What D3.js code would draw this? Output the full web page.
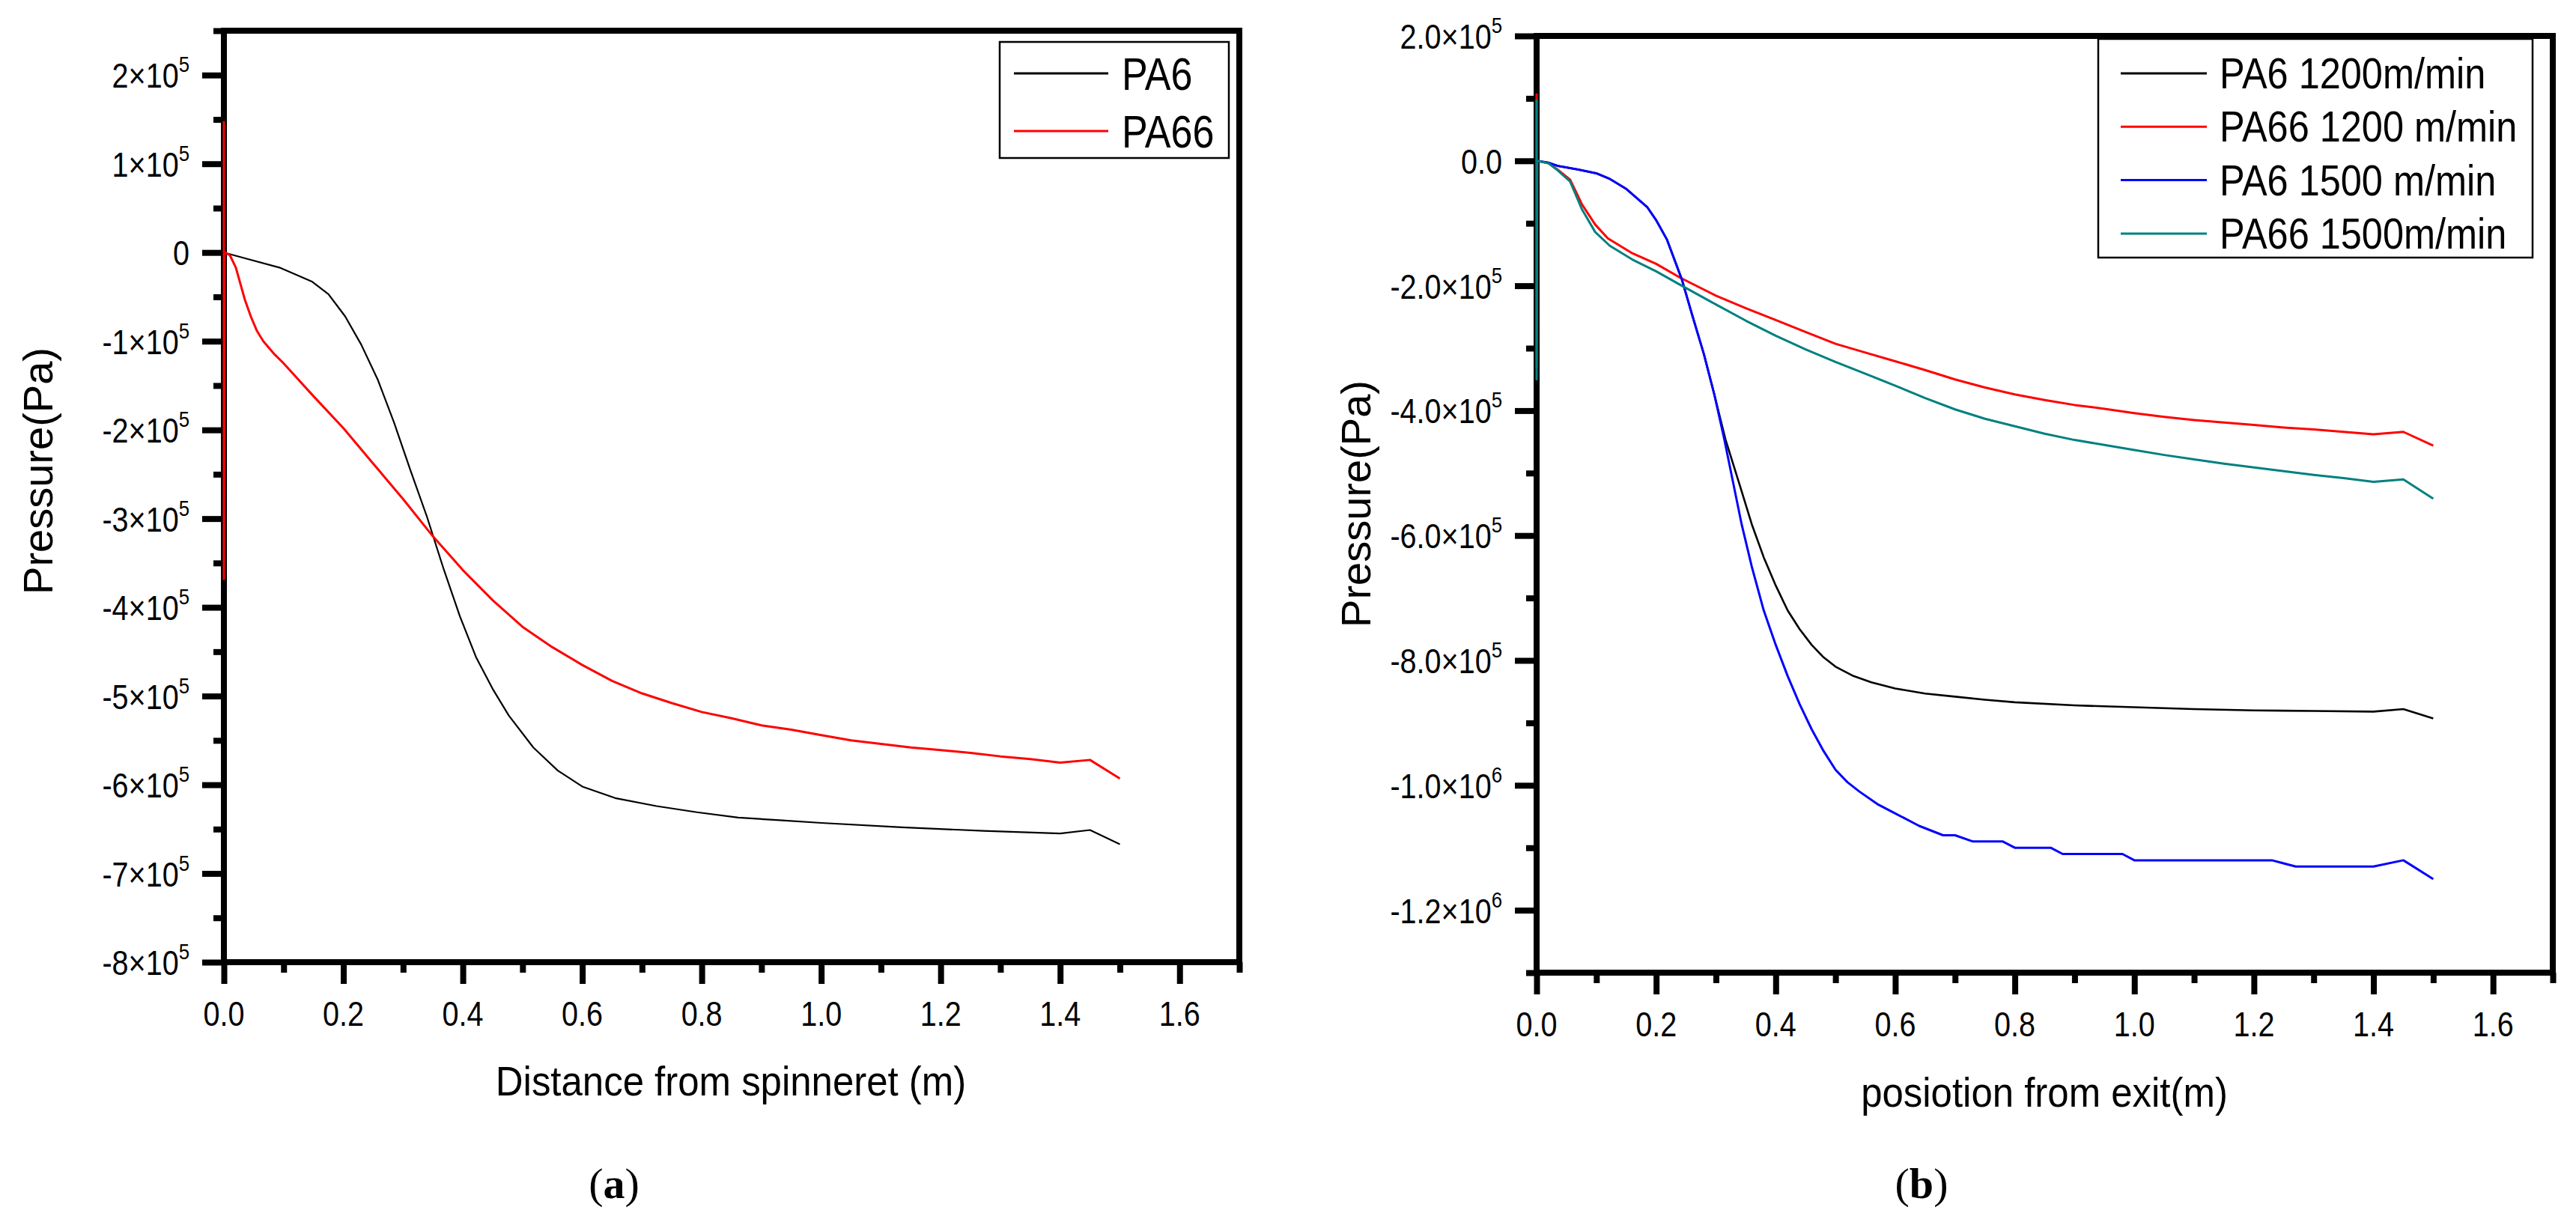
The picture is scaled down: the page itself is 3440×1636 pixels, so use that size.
<!DOCTYPE html>
<html>
<head>
<meta charset="utf-8">
<script src="https://cdn.jsdelivr.net/npm/d3@7"></script>
<style>
  body { margin: 0; background: #fff; }
  text { font-family: "Liberation Sans", Arial, sans-serif; fill: #000; }
</style>
</head>
<body>
<svg id="chart" width="3440" height="1636"></svg>
<script>
// ---------- data ----------
const xMajor = [0, 0.2, 0.4, 0.6, 0.8, 1.0, 1.2, 1.4, 1.6];
const xMinor = [0.1, 0.3, 0.5, 0.7, 0.9, 1.1, 1.3, 1.5, 1.7];
const xTickText = ["0.0", "0.2", "0.4", "0.6", "0.8", "1.0", "1.2", "1.4", "1.6"];

// panel (a)
const yMajorA = [2e5, 1e5, 0, -1e5, -2e5, -3e5, -4e5, -5e5, -6e5, -7e5, -8e5];
const yMinorA = [2.5e5, 1.5e5, 0.5e5, -0.5e5, -1.5e5, -2.5e5, -3.5e5, -4.5e5, -5.5e5, -6.5e5, -7.5e5];
const yTickTextA = ["2×10", "1×10", "0", "-1×10", "-2×10", "-3×10", "-4×10", "-5×10", "-6×10", "-7×10", "-8×10"];
const yTickSupA = ["5", "5", "", "5", "5", "5", "5", "5", "5", "5", "5"];

const namesA = ["PA6", "PA66"];
const colorsA = ["#000000", "#ff0000"];

const pa6A = [[0,0],[0.038,-0.07e5],[0.093,-0.17e5],[0.148,-0.33e5],[0.175,-0.47e5],[0.203,-0.72e5],
  [0.23,-1.04e5],[0.258,-1.44e5],[0.285,-1.92e5],[0.312,-2.45e5],[0.34,-2.98e5],[0.367,-3.55e5],
  [0.395,-4.1e5],[0.422,-4.56e5],[0.45,-4.92e5],[0.477,-5.22e5],[0.518,-5.58e5],[0.559,-5.84e5],
  [0.6,-6.02e5],[0.655,-6.15e5],[0.724,-6.24e5],[0.792,-6.31e5],[0.861,-6.37e5],[0.93,-6.4e5],
  [1.0,-6.43e5],[1.135,-6.48e5],[1.272,-6.52e5],[1.4,-6.55e5],[1.45,-6.51e5],[1.5,-6.67e5]];

const pa66A = [[0,1.48e5],[0,-3.68e5],[0.001,0],[0.01,-0.03e5],[0.02,-0.17e5],[0.035,-0.53e5],
  [0.045,-0.72e5],[0.055,-0.88e5],[0.066,-1.0e5],[0.085,-1.15e5],[0.1,-1.25e5],[0.15,-1.62e5],
  [0.2,-1.98e5],[0.25,-2.38e5],[0.3,-2.78e5],[0.35,-3.2e5],[0.4,-3.58e5],[0.45,-3.92e5],
  [0.5,-4.22e5],[0.55,-4.45e5],[0.6,-4.65e5],[0.65,-4.83e5],[0.7,-4.97e5],[0.75,-5.08e5],
  [0.8,-5.18e5],[0.85,-5.25e5],[0.9,-5.33e5],[0.95,-5.38e5],[1.0,-5.44e5],[1.05,-5.5e5],
  [1.1,-5.54e5],[1.15,-5.58e5],[1.2,-5.61e5],[1.25,-5.64e5],[1.3,-5.68e5],[1.35,-5.71e5],
  [1.4,-5.75e5],[1.45,-5.72e5],[1.5,-5.93e5]];

// panel (b)
const yMajorB = [2e5, 0, -2e5, -4e5, -6e5, -8e5, -1e6, -1.2e6];
const yMinorB = [1e5, -1e5, -3e5, -5e5, -7e5, -9e5, -1.1e6, -1.3e6];
const yTickTextB = ["2.0×10", "0.0", "-2.0×10", "-4.0×10", "-6.0×10", "-8.0×10", "-1.0×10", "-1.2×10"];
const yTickSupB = ["5", "", "5", "5", "5", "5", "6", "6"];

const namesB = ["PA6 1200m/min", "PA66 1200 m/min", "PA6 1500 m/min", "PA66 1500m/min"];
const colorsB = ["#000000", "#ff0000", "#0000ff", "#008080"];

const pa6_1200 = [[0,0],[0.02,-0.03e5],[0.035,-0.08e5],[0.07,-0.14e5],[0.1,-0.2e5],[0.1225,-0.29e5],
  [0.15,-0.45e5],[0.185,-0.74e5],[0.2,-0.95e5],[0.218,-1.26e5],[0.243,-1.9e5],[0.26,-2.46e5],
  [0.28,-3.1e5],[0.2975,-3.75e5],[0.316,-4.46e5],[0.34,-5.2e5],[0.36,-5.82e5],[0.38,-6.35e5],
  [0.4,-6.8e5],[0.42,-7.2e5],[0.44,-7.5e5],[0.46,-7.75e5],[0.48,-7.95e5],[0.5,-8.1e5],
  [0.53,-8.25e5],[0.56,-8.35e5],[0.6,-8.45e5],[0.65,-8.53e5],[0.7,-8.58e5],[0.75,-8.63e5],
  [0.8,-8.67e5],[0.9,-8.72e5],[1.0,-8.75e5],[1.1,-8.78e5],[1.2,-8.8e5],[1.3,-8.81e5],
  [1.4,-8.82e5],[1.45,-8.78e5],[1.5,-8.93e5]];

const pa66_1200 = [[0,1.08e5],[0,-3.3e5],[0.001,0],[0.02,-0.04e5],[0.035,-0.14e5],[0.056,-0.3e5],
  [0.076,-0.7e5],[0.098,-1.02e5],[0.119,-1.24e5],[0.16,-1.48e5],[0.2,-1.65e5],[0.24,-1.87e5],
  [0.3,-2.16e5],[0.35,-2.36e5],[0.4,-2.55e5],[0.45,-2.74e5],[0.5,-2.93e5],[0.55,-3.07e5],
  [0.6,-3.21e5],[0.65,-3.35e5],[0.7,-3.5e5],[0.75,-3.63e5],[0.8,-3.74e5],[0.85,-3.83e5],
  [0.9,-3.91e5],[0.95,-3.97e5],[1.0,-4.04e5],[1.05,-4.1e5],[1.1,-4.15e5],[1.15,-4.19e5],
  [1.2,-4.23e5],[1.25,-4.27e5],[1.3,-4.3e5],[1.35,-4.34e5],[1.4,-4.38e5],[1.45,-4.34e5],
  [1.5,-4.56e5]];

const pa6_1500 = [[0,0],[0.02,-0.03e5],[0.035,-0.08e5],[0.07,-0.14e5],[0.1,-0.2e5],[0.1225,-0.29e5],
  [0.15,-0.45e5],[0.185,-0.74e5],[0.2,-0.95e5],[0.218,-1.26e5],[0.243,-1.9e5],[0.26,-2.46e5],
  [0.28,-3.1e5],[0.2975,-3.75e5],[0.314,-4.46e5],[0.343,-5.82e5],[0.36,-6.5e5],[0.38,-7.2e5],
  [0.4,-7.75e5],[0.42,-8.25e5],[0.44,-8.7e5],[0.46,-9.1e5],[0.48,-9.45e5],[0.5,-9.75e5],
  [0.52,-9.95e5],[0.54,-10.1e5],[0.57,-10.3e5],[0.6,-10.45e5],[0.64,-10.65e5],[0.68,-10.8e5],
  [0.7,-10.8e5],[0.73,-10.9e5],[0.78,-10.9e5],[0.8,-11.0e5],[0.86,-11.0e5],[0.88,-11.1e5],
  [0.98,-11.1e5],[1.0,-11.2e5],[1.23,-11.2e5],[1.27,-11.3e5],[1.4,-11.3e5],[1.45,-11.2e5],
  [1.5,-11.5e5]];

const pa66_1500 = [[0,0.98e5],[0,-3.5e5],[0.001,0],[0.02,-0.04e5],[0.035,-0.15e5],[0.056,-0.33e5],
  [0.076,-0.78e5],[0.098,-1.14e5],[0.1225,-1.36e5],[0.16,-1.58e5],[0.2,-1.77e5],[0.243,-2.0e5],
  [0.3,-2.3e5],[0.35,-2.56e5],[0.4,-2.8e5],[0.45,-3.02e5],[0.5,-3.22e5],[0.55,-3.41e5],
  [0.6,-3.6e5],[0.65,-3.8e5],[0.7,-3.98e5],[0.75,-4.13e5],[0.8,-4.25e5],[0.85,-4.37e5],
  [0.9,-4.47e5],[0.95,-4.55e5],[1.0,-4.63e5],[1.05,-4.71e5],[1.1,-4.78e5],[1.15,-4.85e5],
  [1.2,-4.91e5],[1.25,-4.97e5],[1.3,-5.03e5],[1.35,-5.08e5],[1.4,-5.14e5],[1.45,-5.1e5],
  [1.5,-5.41e5]];

// ---------- drawing ----------
const svg = d3.select("#chart");

// text squeezed horizontally round its anchor point (the source font is narrow)
function squeezed(g, x, y, k) {
  return g.append("text").attr("transform", `translate(${x},${y}) scale(${k},1)`);
}

function drawPanel(p) {
  const g = svg.append("g");
  const x = d3.scaleLinear().domain([0, 1.7]).range([p.left, p.right]);
  const y = d3.scaleLinear().domain(p.yDomain).range([p.bottom, p.top]);

  // frame
  g.append("rect")
    .attr("x", p.left).attr("y", p.top)
    .attr("width", p.right - p.left).attr("height", p.bottom - p.top)
    .attr("fill", "none").attr("stroke", "#000").attr("stroke-width", 8);

  // ticks
  const tickSets = [
    [d3.axisBottom(x).tickValues(xMajor).tickSize(29), `translate(0,${p.bottom})`],
    [d3.axisBottom(x).tickValues(xMinor).tickSize(14), `translate(0,${p.bottom})`],
    [d3.axisLeft(y).tickValues(p.yMajor).tickSize(29), `translate(${p.left},0)`],
    [d3.axisLeft(y).tickValues(p.yMinor).tickSize(14), `translate(${p.left},0)`]
  ];
  tickSets.forEach(([axis, tr]) => {
    const a = g.append("g").attr("transform", tr).call(axis.tickFormat(""));
    a.select(".domain").remove();
    a.selectAll("line").attr("stroke", "#000").attr("stroke-width", 8);
  });

  // x tick labels
  xMajor.forEach((v, i) => {
    squeezed(g, x(v), p.bottom + 85, 0.86)
      .attr("text-anchor", "middle").attr("font-size", 46)
      .text(xTickText[i]);
  });

  // y tick labels with superscript exponents
  p.yMajor.forEach((v, i) => {
    const t = squeezed(g, p.left - 46, y(v) + 17, 0.86)
      .attr("text-anchor", "end").attr("font-size", 46);
    t.append("tspan").text(p.yText[i]);
    if (p.ySup[i]) t.append("tspan").attr("font-size", 30).attr("dy", -21).text(p.ySup[i]);
  });

  // axis titles
  g.append("text")
    .attr("transform", `translate(${p.yTitleX},${p.yTitleY}) rotate(-90)`)
    .attr("text-anchor", "middle").attr("font-size", 56)
    .text("Pressure(Pa)");
  squeezed(g, p.xTitleX, p.xTitleY, 0.91)
    .attr("text-anchor", "middle").attr("font-size", 56)
    .text(p.xTitle);

  // curves
  const line = d3.line().x(d => x(d[0])).y(d => y(d[1]));
  p.series.forEach((s, i) => {
    g.append("path").datum(s)
      .attr("fill", "none")
      .attr("stroke", p.colors[i])
      .attr("stroke-width", p.widths[i])
      .attr("stroke-linejoin", "round")
      .attr("d", line);
  });

  // legend
  const L = p.legend;
  g.append("rect")
    .attr("x", L.x).attr("y", L.y).attr("width", L.w).attr("height", L.h)
    .attr("fill", "#fff").attr("stroke", "#000").attr("stroke-width", 2.5);
  p.names.forEach((name, i) => {
    const ly = L.y + L.first + i * L.step;
    g.append("line")
      .attr("x1", L.x + L.lineFrom).attr("x2", L.x + L.lineTo)
      .attr("y1", ly).attr("y2", ly)
      .attr("stroke", p.colors[i]).attr("stroke-width", 3);
    squeezed(g, L.x + L.textX, ly + L.base, L.k)
      .attr("font-size", L.size)
      .text(name);
  });

  // caption
  const c = g.append("text")
    .attr("x", p.capX).attr("y", 1600)
    .attr("text-anchor", "middle")
    .attr("font-size", 58)
    .style("font-family", "'Liberation Serif', 'DejaVu Serif', serif");
  c.append("tspan").text("(");
  c.append("tspan").attr("font-weight", "bold").text(p.cap);
  c.append("tspan").text(")");
}

drawPanel({
  left: 299, right: 1655, top: 41, bottom: 1285,
  yDomain: [-8e5, 2.5e5], yMajor: yMajorA, yMinor: yMinorA,
  yText: yTickTextA, ySup: yTickSupA,
  yTitleX: 70, yTitleY: 629,
  xTitle: "Distance from spinneret (m)", xTitleX: 976, xTitleY: 1463,
  series: [pa6A, pa66A], colors: colorsA, widths: [2.2, 3], names: namesA,
  legend: { x: 1335, y: 56, w: 306, h: 155, first: 42, step: 77,
            lineFrom: 19, lineTo: 145, textX: 163, base: 22, size: 62, k: 0.84 },
  capX: 820, cap: "a"
});

drawPanel({
  left: 2052, right: 3409, top: 48, bottom: 1299,
  yDomain: [-1.3e6, 2e5], yMajor: yMajorB, yMinor: yMinorB,
  yText: yTickTextB, ySup: yTickSupB,
  yTitleX: 1830, yTitleY: 673,
  xTitle: "posiotion from exit(m)", xTitleX: 2730, xTitleY: 1478,
  series: [pa6_1200, pa66_1200, pa6_1500, pa66_1500], colors: colorsB, widths: [2.6, 3, 3, 3], names: namesB,
  legend: { x: 2802, y: 52, w: 580, h: 292, first: 46, step: 71.3,
            lineFrom: 30, lineTo: 145, textX: 162, base: 20, size: 58, k: 0.87 },
  capX: 2566, cap: "b"
});
</script>
</body>
</html>
